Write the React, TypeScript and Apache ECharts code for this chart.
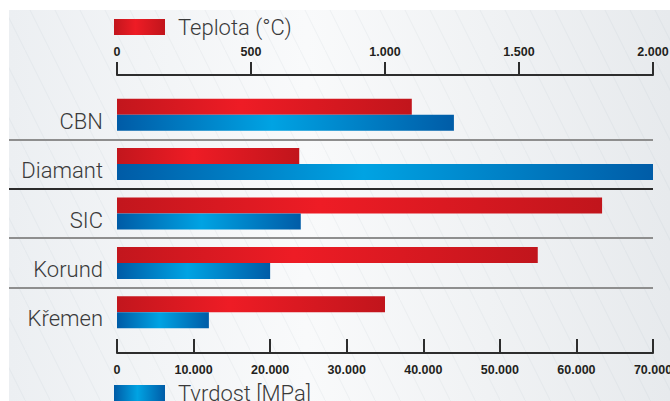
import React, { useEffect, useRef } from 'react';
import * as echarts from 'echarts';

const categories = ['CBN', 'Diamant', 'SIC', 'Korund', 'Křemen'];
const teplota = [1100, 680, 1810, 1570, 1000];
const tvrdost = [44000, 70000, 24000, 20000, 12000];
const teplotaScale = { min: 0, max: 2000, interval: 500 };
const tvrdostScale = { min: 0, max: 70000, interval: 10000 };
const seriesNames = ['Teplota (°C)', 'Tvrdost [MPa]'];
const separatorColors = ['#8e8e8e', '#2b2b2b', '#8e8e8e', '#8e8e8e'];

const fmt = (v: number) => String(v).replace(/\B(?=(\d{3})+(?!\d))/g, '.');

const numFont = {
  fontFamily: "'Liberation Sans', Arial, sans-serif",
  fontWeight: 'bold' as const,
  fontSize: 12.5,
  color: '#231f20',
};
const lightFont = {
  fontFamily: 'Roboto, "Noto Sans", sans-serif',
  fontWeight: 300 as any,
  fontSize: 22,
  color: '#3a3a3a',
};

const stripeSvg =
  'data:image/svg+xml;utf8,' +
  encodeURIComponent(
    '<svg xmlns="http://www.w3.org/2000/svg" width="25" height="50"><path d="M-1 -2 L26 52" stroke="rgba(120,130,140,0.07)" stroke-width="1" fill="none"/></svg>'
  );

export default function App() {
  const ref = useRef<HTMLDivElement>(null);
  useEffect(() => {
    if (!ref.current) return;
    const chart = echarts.init(ref.current, null, { renderer: 'svg' });
    const axisColor = '#2d2d2d';
    chart.setOption({
      animation: false,
      backgroundColor: '#ffffff',
      graphic: [
        {
          type: 'rect',
          z: -100,
          silent: true,
          shape: { x: 9, y: 10, width: 661, height: 391 },
          style: {
            fill: new echarts.graphic.LinearGradient(0, 0, 1, 0, [
              { offset: 0, color: '#eceff2' },
              { offset: 0.45, color: '#f9fafb' },
              { offset: 1, color: '#e7eaed' },
            ]),
          },
        },
        {
          type: 'rect',
          z: -99,
          silent: true,
          shape: { x: 9, y: 10, width: 661, height: 391 },
          style: {
            fill: { image: stripeSvg, repeat: 'repeat', imageWidth: 25, imageHeight: 50 } as any,
          },
        },
      ],
      legend: [
        {
          data: [seriesNames[0]],
          left: 114,
          top: 16,
          padding: 0,
          itemWidth: 51,
          itemHeight: 16,
          icon: 'rect',
          selectedMode: false,
          textStyle: { ...lightFont, padding: [0, 0, 0, 8] },
        },
        {
          data: [seriesNames[1]],
          left: 114,
          top: 382,
          padding: 0,
          itemWidth: 51,
          itemHeight: 16,
          icon: 'rect',
          selectedMode: false,
          textStyle: { ...lightFont, padding: [0, 0, 0, 8] },
        },
      ],
      grid: [
        { left: 9, right: 17, top: 90, height: 247, outerBoundsMode: 'none', containLabel: false },
        { left: 117, right: 17, top: 90, height: 247, outerBoundsMode: 'none', containLabel: false },
      ],
      xAxis: [
        {
          gridIndex: 1,
          type: 'value',
          position: 'top',
          offset: 15,
          ...teplotaScale,
          axisLine: { show: true, lineStyle: { color: axisColor, width: 2 } },
          axisTick: { show: true, length: 13, lineStyle: { color: axisColor, width: 2 } },
          axisLabel: { ...numFont, margin: 17, formatter: fmt },
          splitLine: { show: false },
        },
        {
          gridIndex: 1,
          type: 'value',
          position: 'bottom',
          offset: 16,
          ...tvrdostScale,
          axisLine: { show: true, lineStyle: { color: axisColor, width: 2 } },
          axisTick: { show: true, inside: true, length: 14, lineStyle: { color: axisColor, width: 2 } },
          axisLabel: { ...numFont, margin: 10, formatter: fmt },
          splitLine: { show: false },
        },
        { gridIndex: 0, type: 'value', show: false, min: 0, max: 1 },
      ],
      yAxis: [
        {
          gridIndex: 1,
          type: 'category',
          data: categories,
          inverse: true,
          axisLine: { show: false },
          axisTick: { show: false },
          axisLabel: { ...lightFont, margin: 14, verticalAlign: 'top', lineHeight: 13 },
          splitLine: { show: false },
        },
        {
          gridIndex: 0,
          type: 'category',
          data: categories,
          inverse: true,
          axisLine: { show: false },
          axisTick: { show: false },
          axisLabel: { show: false },
          splitLine: {
            show: true,
            showMinLine: false,
            showMaxLine: false,
            lineStyle: { color: separatorColors, width: 2 },
          },
        },
      ],
      series: [
        {
          name: seriesNames[0],
          type: 'bar',
          xAxisIndex: 0,
          yAxisIndex: 0,
          data: teplota,
          barWidth: 16,
          barGap: '0%',
          itemStyle: {
            color: new echarts.graphic.LinearGradient(0, 0, 1, 0, [
              { offset: 0, color: '#c2161d' },
              { offset: 0.42, color: '#ee1c25' },
              { offset: 1, color: '#c1151c' },
            ]),
          },
        },
        {
          name: seriesNames[1],
          type: 'bar',
          xAxisIndex: 1,
          yAxisIndex: 0,
          data: tvrdost,
          barWidth: 16,
          barGap: '0%',
          itemStyle: {
            color: new echarts.graphic.LinearGradient(0, 0, 1, 0, [
              { offset: 0, color: '#005ba6' },
              { offset: 0.46, color: '#00a3e3' },
              { offset: 1, color: '#005ca7' },
            ]),
          },
        },
      ],
    });
    return () => chart.dispose();
  }, []);
  return (
    <div
      ref={ref}
      style={{ position: 'absolute', left: 0, top: 0, width: 670, height: 401 }}
    />
  );
}
